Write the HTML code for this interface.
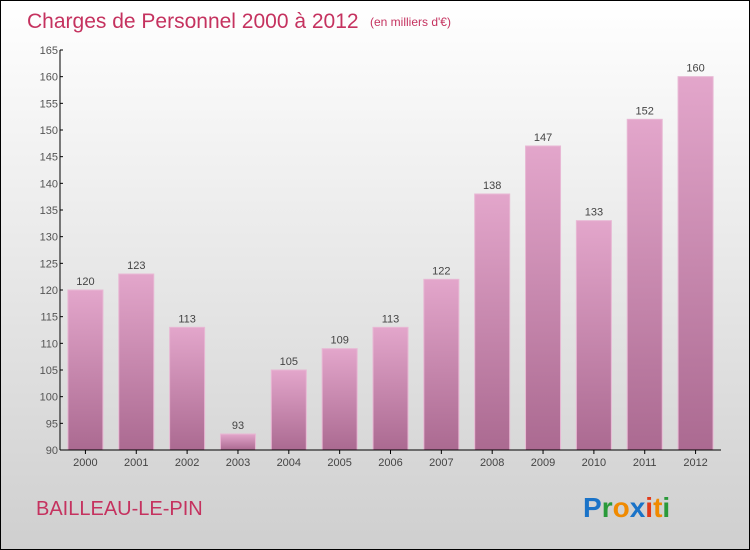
<!DOCTYPE html>
<html><head><meta charset="utf-8"><style>
body{margin:0}
#wrap{position:relative;width:748px;height:548px;border:1px solid #000;background:linear-gradient(#ffffff,#cfcfcf);font-family:"Liberation Sans",sans-serif;overflow:hidden}
</style></head><body>
<div id="wrap">
<svg id="chart" width="748" height="548">
<defs><linearGradient id="bg" x1="0" y1="0" x2="0" y2="1"><stop offset="0" stop-color="#e3a6cb"/><stop offset="1" stop-color="#ab6a91"/></linearGradient></defs>
<text x="26" y="27" font-size="21" fill="#c5325f">Charges de Personnel 2000 à 2012</text>
<text x="369" y="25" font-size="12" fill="#c5325f">(en milliers d'€)</text>
<text x="35" y="514" font-size="20" fill="#c5325f">BAILLEAU-LE-PIN</text>
<g font-size="28" font-weight="bold" font-family="'Liberation Sans',sans-serif">
<text x="582" y="516"><tspan fill="#1a73c8">P</tspan><tspan fill="#2a9a3a">r</tspan><tspan fill="#f08a00">o</tspan><tspan fill="#1a73c8">x</tspan><tspan fill="#e23a1a">i</tspan><tspan fill="#f08a00">t</tspan><tspan fill="#2a9a3a">i</tspan></text></g>
<g id="plot"></g>
</svg></div>
<script>
const categories=["2000","2001","2002","2003","2004","2005","2006","2007","2008","2009","2010","2011","2012"];
const values=[120,123,113,93,105,109,113,122,138,147,133,152,160];
const yTicks=[90,95,100,105,110,115,120,125,130,135,140,145,150,155,160,165];
const NS="http://www.w3.org/2000/svg";
const g=document.getElementById('plot');
const x0=59,x1=720,yMin=90,yMax=165,py0=449,py1=49;
const bw=(x1-x0)/categories.length;
const y=v=>py0-(v-yMin)/(yMax-yMin)*(py0-py1);
const xc=i=>x0+bw*(i+0.5);
function mk(t,a){const e=document.createElementNS(NS,t);for(const k in a)e.setAttribute(k,a[k]);g.appendChild(e);return e;}
values.forEach((v,i)=>{
 const r=mk('rect',{x:xc(i)-17.5,y:y(v),width:35,height:py0-y(v),fill:'url(#bg)',stroke:'#e8b8d4','stroke-width':1});
 
 
 const t=mk('text',{x:xc(i),y:y(v)-5,'text-anchor':'middle','font-size':11,fill:'#444'});
 t.textContent=v;
 
 
 const c=mk('text',{x:xc(i),y:py0+16,'text-anchor':'middle','font-size':11,fill:'#444'});
 c.textContent=categories[i];
 
 
 const tk=mk('line',{x1:xc(i),x2:xc(i),y1:py0,y2:py0+4,stroke:'#000'});
 
 
});
yTicks.forEach(v=>{
 const l=mk('line',{x1:x0,x2:x0+3,y1:y(v),y2:y(v),stroke:'#000'});
 
 
 const t=mk('text',{x:x0-2,y:y(v)+4,'text-anchor':'end','font-size':11,fill:'#555'});
 t.textContent=v;
 
 
});
const ya=mk('line',{x1:x0,x2:x0,y1:py1,y2:py0,stroke:'#000'});


const xa=mk('line',{x1:x0,x2:x1,y1:py0,y2:py0,stroke:'#000'});


</script>
</body></html>
